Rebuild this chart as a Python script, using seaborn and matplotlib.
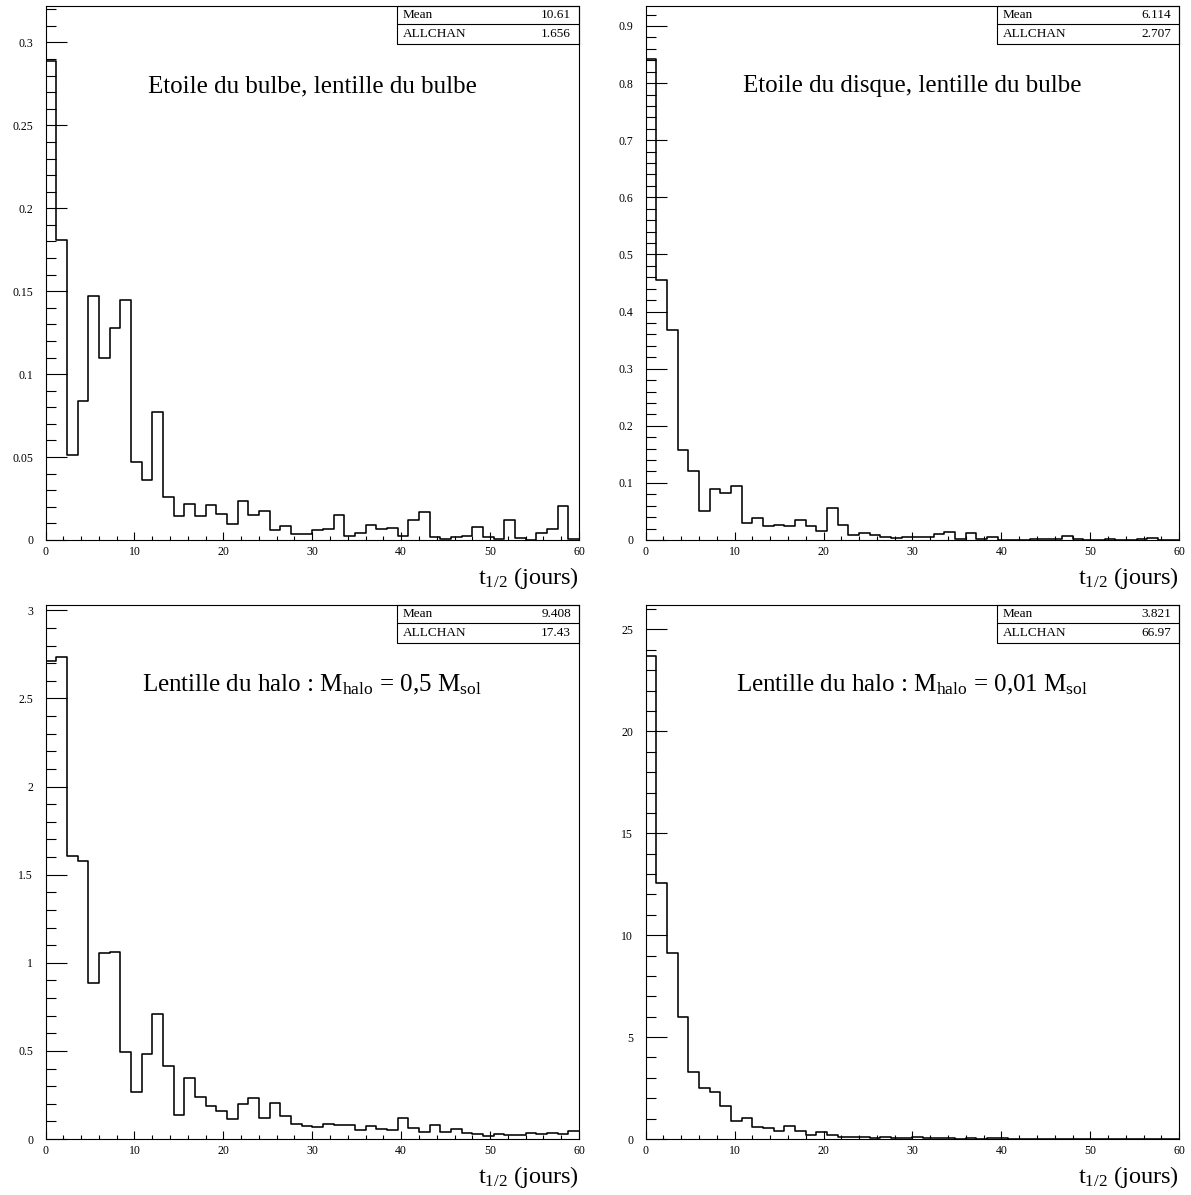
import numpy as np
import pandas as pd
import matplotlib
matplotlib.use("Agg")
import matplotlib.pyplot as plt
from matplotlib.ticker import MultipleLocator, AutoMinorLocator, FormatStrFormatter
from matplotlib.patches import Rectangle
import seaborn as sns

sns.set_theme(style="white")
plt.rcParams['font.family'] = ['Liberation Serif', 'DejaVu Serif']
plt.rcParams['mathtext.fontset'] = 'custom'
plt.rcParams['mathtext.rm'] = 'Liberation Serif'
plt.rcParams['mathtext.it'] = 'Liberation Serif:italic'
plt.rcParams['text.color'] = 'black'

# 50 bins of 1.2 days between 0 and 60
n_bins = 50
t_range = (0, 60)
bin_edges = np.linspace(t_range[0], t_range[1], n_bins + 1)
bin_centres = 0.5 * (bin_edges[:-1] + bin_edges[1:])

# Bin contents
bulbe_bulbe = [0.289, 0.181, 0.051, 0.084, 0.147, 0.110, 0.128, 0.145, 0.047, 0.036,
               0.077, 0.026, 0.0144, 0.022, 0.0144, 0.021, 0.0155, 0.0097, 0.0234, 0.0148,
               0.0176, 0.0058, 0.0086, 0.0037, 0.0037, 0.006, 0.0064, 0.0153, 0.0024, 0.0044,
               0.0092, 0.0068, 0.007, 0.0024, 0.012, 0.0167, 0.0016, 0.0008, 0.0018, 0.0022,
               0.0076, 0.0018, 0.0006, 0.0118, 0.0012, 0.0002, 0.004, 0.0064, 0.0203, 0.0004]
disque_bulbe = [0.842, 0.456, 0.368, 0.158, 0.120, 0.051, 0.089, 0.082, 0.094, 0.030,
                0.038, 0.024, 0.026, 0.025, 0.035, 0.024, 0.016, 0.056, 0.026, 0.0094,
                0.012, 0.0094, 0.0056, 0.0038, 0.0044, 0.0047, 0.0047, 0.010, 0.014, 0.001,
                0.0117, 0.0023, 0.0047, 0.0006, 0.0006, 0.0, 0.0023, 0.0018, 0.001, 0.007,
                0.001, 0.0, 0.0006, 0.001, 0.0006, 0.0006, 0.001, 0.004, 0.0006, 0.0]
halo_05 = [2.715, 2.735, 1.607, 1.580, 0.883, 1.056, 1.062, 0.492, 0.264, 0.482,
           0.712, 0.415, 0.136, 0.344, 0.238, 0.187, 0.157, 0.112, 0.197, 0.234,
           0.120, 0.207, 0.132, 0.085, 0.075, 0.068, 0.087, 0.080, 0.078, 0.051,
           0.076, 0.059, 0.051, 0.118, 0.063, 0.040, 0.082, 0.040, 0.057, 0.032,
           0.030, 0.019, 0.030, 0.021, 0.023, 0.036, 0.027, 0.032, 0.027, 0.046]
halo_001 = [23.71, 12.55, 9.12, 6.01, 3.30, 2.49, 2.31, 1.60, 0.90, 1.04,
            0.60, 0.55, 0.41, 0.65, 0.37, 0.18, 0.32, 0.18, 0.12, 0.09,
            0.09, 0.05, 0.10, 0.07, 0.07, 0.10, 0.04, 0.04, 0.03, 0.02,
            0.03, 0.02, 0.03, 0.04, 0.02, 0.01, 0.02, 0.01, 0.01, 0.02,
            0.01, 0.01, 0.005, 0.01, 0.005, 0.0, 0.005, 0.01, 0.0, 0.0]

titles = ["Etoile du bulbe, lentille du bulbe",
          "Etoile du disque, lentille du bulbe",
          r"Lentille du halo : M$_{\mathrm{halo}}$ = 0,5 M$_{\mathrm{sol}}$",
          r"Lentille du halo : M$_{\mathrm{halo}}$ = 0,01 M$_{\mathrm{sol}}$"]
mean_labels = ["10.61", "6.114", "9.408", "3.821"]
allchan_labels = ["1.656", "2.707", "17.43", "66.97"]
series = [bulbe_bulbe, disque_bulbe, halo_05, halo_001]
y_tops = [0.322, 0.935, 3.03, 26.2]
y_steps = [0.05, 0.1, 0.5, 5]

W, H = 1191, 1195
fig = plt.figure(figsize=(W / 100, H / 100), dpi=100)

lefts = [45.5, 645.7]
tops = [6, 605]
aw, ah = 533.5, 534

for i in range(4):
    left = lefts[i % 2]
    top = tops[i // 2]
    ax = fig.add_axes([left / W, (H - top - ah) / H, aw / W, ah / H])

    df = pd.DataFrame({"t": bin_centres, "w": series[i]})
    sns.histplot(data=df, x="t", weights="w", bins=n_bins, binrange=t_range,
                 element="step", fill=False, color="black", linewidth=1.15, ax=ax)

    ax.set_xlim(*t_range)
    ax.set_ylim(0, y_tops[i])
    ax.set_xlabel("")
    ax.set_ylabel("")

    ax.xaxis.set_major_locator(MultipleLocator(10))
    ax.xaxis.set_minor_locator(AutoMinorLocator(5))
    ax.yaxis.set_major_locator(MultipleLocator(y_steps[i]))
    ax.yaxis.set_minor_locator(AutoMinorLocator(5))
    ax.yaxis.set_major_formatter(FormatStrFormatter('%g'))
    ax.xaxis.set_major_formatter(FormatStrFormatter('%g'))

    ax.tick_params(axis='both', which='both', direction='in', width=0.8,
                   colors='black', labelsize=8.5, bottom=True, left=True)
    ax.tick_params(axis='y', which='major', length=15, pad=9)
    ax.tick_params(axis='y', which='minor', length=7.5)
    ax.tick_params(axis='x', which='major', length=6, pad=4)
    ax.tick_params(axis='x', which='minor', length=3)

    for sp in ax.spines.values():
        sp.set_color('black')
        sp.set_linewidth(0.8)

    # stats box
    bx0 = 0.658
    ax.add_patch(Rectangle((bx0, 0.929), 1 - bx0, 0.071, transform=ax.transAxes,
                           fill=False, edgecolor='black', linewidth=0.8, clip_on=False))
    ax.plot([bx0, 1.0], [0.966, 0.966], transform=ax.transAxes, color='black',
            linewidth=0.8, clip_on=False)
    ax.text(0.669, 0.984, "Mean", transform=ax.transAxes, fontsize=9.5, va='center')
    ax.text(0.985, 0.984, mean_labels[i], transform=ax.transAxes, fontsize=9.5,
            va='center', ha='right')
    ax.text(0.669, 0.948, "ALLCHAN", transform=ax.transAxes, fontsize=9.5, va='center')
    ax.text(0.985, 0.948, allchan_labels[i], transform=ax.transAxes, fontsize=9.5,
            va='center', ha='right')

    ax.text(0.5, 0.85, titles[i], transform=ax.transAxes, fontsize=18,
            ha='center', va='center')
    ax.text(1.0, -0.072, r"t$_{\mathrm{1/2}}$ (jours)", transform=ax.transAxes,
            fontsize=17.5, ha='right', va='center')

fig.savefig("out.png", dpi=100, facecolor='white')
